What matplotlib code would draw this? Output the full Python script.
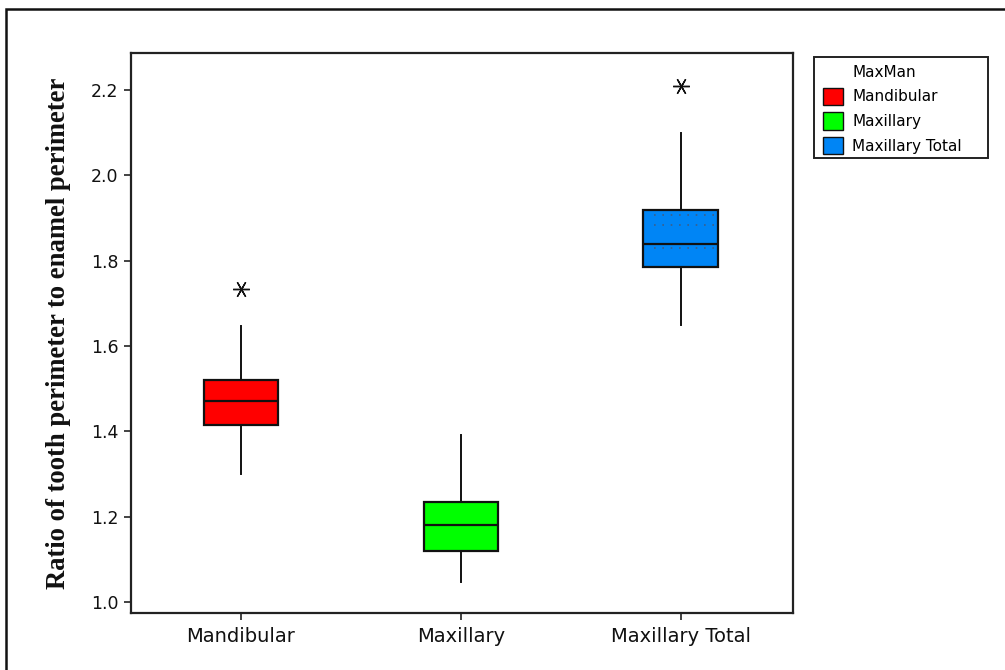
import matplotlib
matplotlib.use("Agg")
import matplotlib.pyplot as plt
from matplotlib.patches import Patch, Rectangle
from matplotlib.lines import Line2D

# Box-plot summaries per group
groups = ["Mandibular", "Maxillary", "Maxillary Total"]
whisker_low = [1.300, 1.047, 1.649]
q1 = [1.415, 1.120, 1.785]
median = [1.471, 1.180, 1.839]
q3 = [1.520, 1.234, 1.919]
whisker_high = [1.647, 1.391, 2.099]
outliers = [[1.733], [], [2.209]]
colors = ["#FF0000", "#00FF00", "#0085F5"]

y_ticks = [1.0, 1.2, 1.4, 1.6, 1.8, 2.0, 2.2]

# faint dotted rows inside the Maxillary Total box
dot_rows = [1.906, 1.883, 1.830]

W, H = 1005, 670
fig = plt.figure(figsize=(W / 100, H / 100), dpi=100)
ax = fig.add_axes([131 / W, 1 - 613 / H, (793 - 131) / W, (613 - 53) / H])

stats = []
for i, name in enumerate(groups):
    stats.append(dict(label=name, whislo=whisker_low[i], q1=q1[i], med=median[i],
                      q3=q3[i], whishi=whisker_high[i], fliers=outliers[i]))

positions = list(range(1, len(groups) + 1))
bp = ax.bxp(stats, positions=positions, widths=0.34, patch_artist=True,
            showcaps=False,
            boxprops=dict(linewidth=1.6, edgecolor="#111111"),
            medianprops=dict(color="#111111", linewidth=1.6),
            whiskerprops=dict(color="#111111", linewidth=1.4),
            flierprops=dict(marker=(6, 2, 90), markersize=12, markeredgecolor="#111111",
                            markeredgewidth=1.0, linestyle="none"))
for patch, c in zip(bp["boxes"], colors):
    patch.set_facecolor(c)

for yv in dot_rows:
    ax.plot([positions[2] - 0.12, positions[2] + 0.15], [yv, yv], linestyle=(0, (1, 4)),
            color="#3a5f8a", linewidth=1.2, zorder=5)

ax.set_xlim(0.5, 3.51)
ax.set_ylim(0.974, 2.287)
ax.set_yticks(y_ticks)
ax.set_yticklabels([f"{v:.1f}" for v in y_ticks])
ax.set_xticks(positions)
ax.set_xticklabels(groups)
ax.tick_params(axis="both", direction="out", length=5, width=1.2, color="#222222",
               labelcolor="#111111", pad=4)
ax.tick_params(axis="y", labelsize=12.5)
ax.tick_params(axis="x", labelsize=14, pad=5)
for s in ax.spines.values():
    s.set_linewidth(1.6)
    s.set_color("#222222")

ax.set_ylabel("Ratio of tooth perimeter to enamel perimeter", family="Liberation Serif",
              fontweight="bold", fontsize=19.2, color="#111111")
ax.yaxis.set_label_coords(-0.091, 0.5)

# legend
handles = [Line2D([], [], linestyle="none")]
labels = ["MaxMan"]
for name, c in zip(groups, colors):
    handles.append(Patch(facecolor=c, edgecolor="#111111", linewidth=1.0))
    labels.append(name)
leg = fig.legend(handles, labels, loc="upper left",
                 bbox_to_anchor=(820 / W, 1 - 60 / H), frameon=False,
                 fontsize=11, handlelength=1.3, handleheight=1.4, handletextpad=0.6,
                 labelspacing=0.45, borderpad=0.2, borderaxespad=0)
fig.patches.append(Rectangle((814 / W, 1 - 158 / H), (988 - 814) / W, (158 - 57) / H,
                             transform=fig.transFigure, fill=False,
                             edgecolor="#222222", linewidth=1.4))

# outer frame
fig.patches.append(Rectangle((6 / W, -0.05), 1.1, 1 - 9 / H + 0.05,
                             transform=fig.transFigure, fill=False,
                             edgecolor="#111111", linewidth=1.8))

fig.savefig("out.png", dpi=100)
